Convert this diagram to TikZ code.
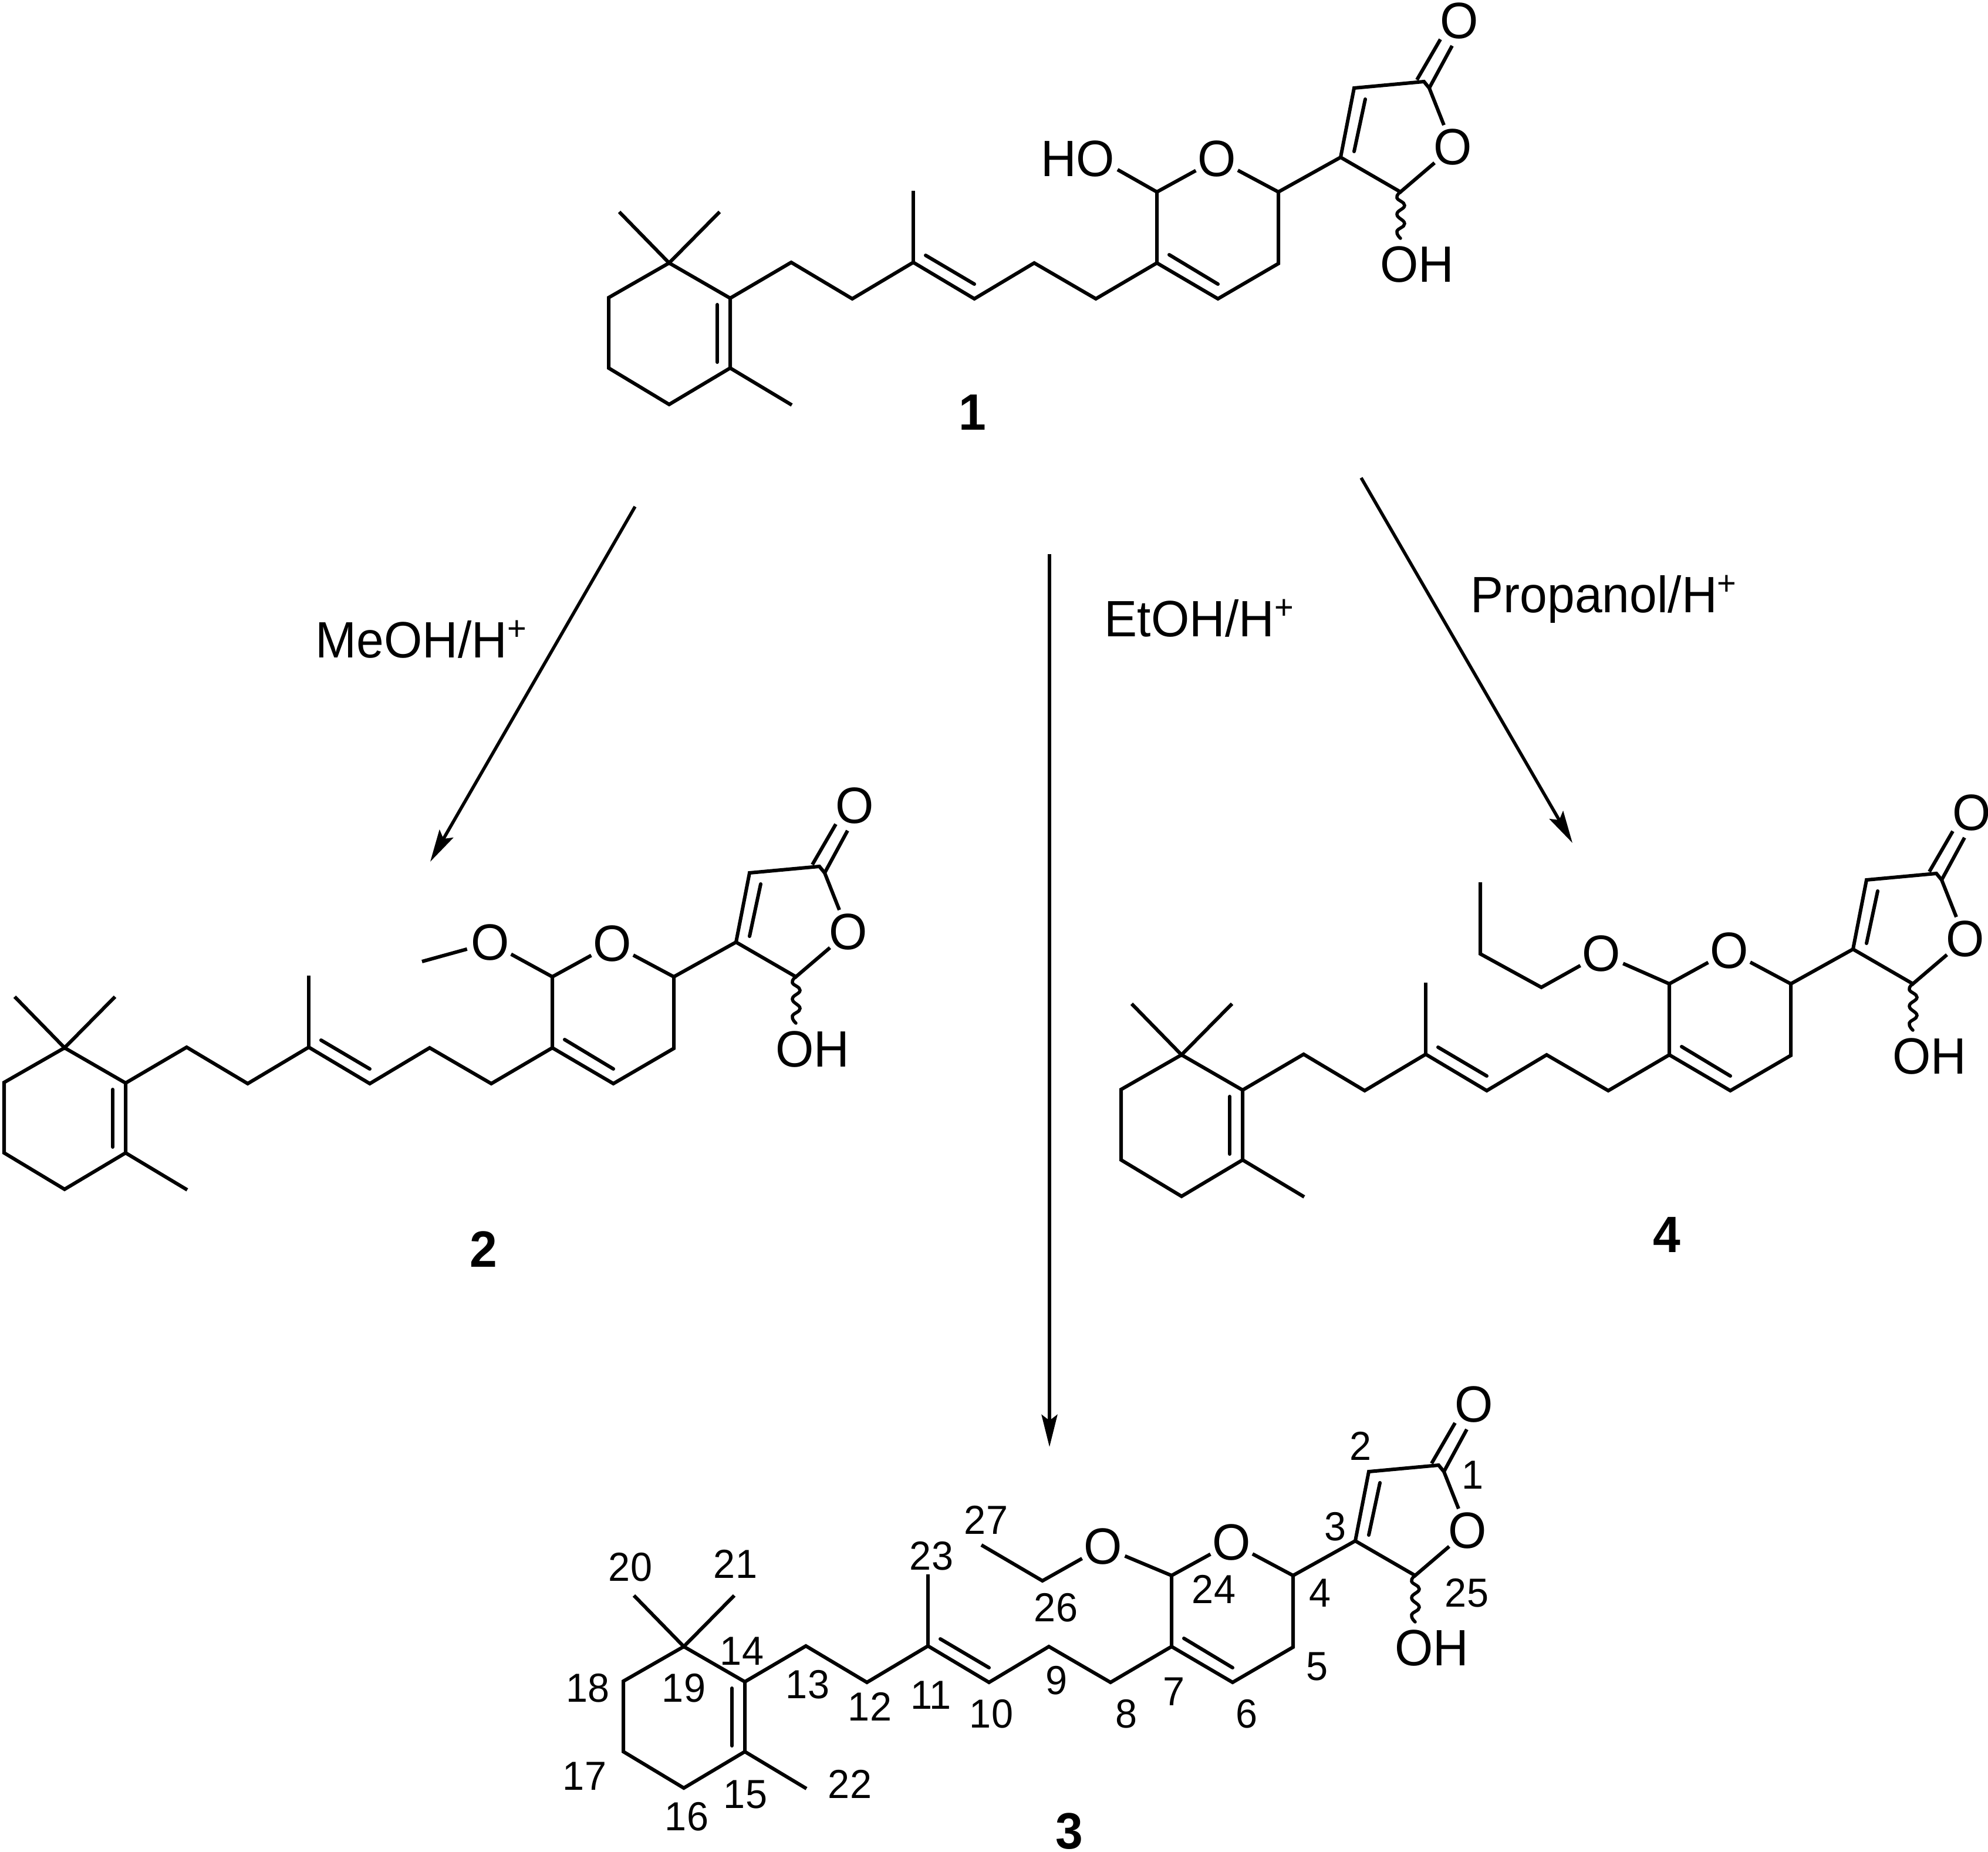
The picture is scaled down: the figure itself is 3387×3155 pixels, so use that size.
\documentclass[tikz,border=0pt]{standalone}
\usepackage{fontspec}
\setmainfont[FakeStretch=0.965]{Liberation Sans}
\usetikzlibrary{arrows.meta}
\tikzset{
  bond/.style={line width=.06cm,line cap=butt,line join=miter},
  innerbond/.style={line width=.06cm,line cap=round},
  wavybond/.style={line width=.055cm,line cap=round},
  rxnarrow/.style={line width=.055cm,-{Stealth[length=.55cm,width=.27cm,inset=.1cm]}},
  atomlab/.style={circle,inner sep=0pt,minimum size=.8cm,font=\fontsize{.87cm}{1cm}\selectfont},
  txtlab/.style={inner sep=0pt,font=\fontsize{.87cm}{1cm}\selectfont},
  numlab/.style={inner sep=0pt,font=\fontsize{.69cm}{.8cm}\selectfont},
  cpdlab/.style={inner sep=0pt,font=\fontsize{.87cm}{1cm}\selectfont\bfseries}
}
\newcommand\atomO{\makebox[0pt]{O}}
\newcommand\plusmark{\raisebox{.29cm}{\fontsize{.58cm}{.6cm}\selectfont +}}
\newcommand\skeleton[3]{%
\begin{scope}[shift={(#1,#2)},name prefix=#3-]
  \coordinate (Q) at (1140,448);
  \coordinate (Ma) at (1055,361);
  \coordinate (Mb) at (1226,361);
  \coordinate (R1) at (1037,507);
  \coordinate (R2) at (1037,627);
  \coordinate (R3) at (1140,689);
  \coordinate (R4) at (1244,627);
  \coordinate (R5) at (1244,508);
  \coordinate (Me) at (1349,690);
  \coordinate (Ria) at (1222,519);
  \coordinate (Rib) at (1222,617);
  \coordinate (C1) at (1348,447);
  \coordinate (C2) at (1452,509);
  \coordinate (C3) at (1556,447);
  \coordinate (Mt) at (1556,325);
  \coordinate (C4) at (1660,509);
  \coordinate (Cia) at (1577,435);
  \coordinate (Cib) at (1660,484);
  \coordinate (C5) at (1762,448);
  \coordinate (C6) at (1867,509);
  \coordinate (P7) at (1971,448);
  \coordinate (P1) at (1971,327);
  \coordinate (P3) at (2178,327);
  \coordinate (P4) at (2178,449);
  \coordinate (P5) at (2075,509);
  \coordinate (Pia) at (1992,434);
  \coordinate (Pib) at (2075,484);
  \coordinate (Fb) at (2284,268);
  \coordinate (Fa) at (2307,150);
  \coordinate (Fia) at (2326,169);
  \coordinate (Fib) at (2307,258);
  \coordinate (CO) at (2426,139);
  \coordinate (COb) at (2435,150);
  \coordinate (F5) at (2386,327);
  \coordinate (Wa) at (2380,337);
  \coordinate (Wb) at (2393,350);
  \coordinate (Wc) at (2380,365);
  \coordinate (Wd) at (2393,381);
  \coordinate (We) at (2380,394);
  \coordinate (W) at (2386,406);
  \coordinate (Da) at (2414,136);
  \coordinate (Db) at (2454,67);
  \coordinate (Dc) at (2474,78);
  \node[atomlab] (Ocarb) at (2486,36) {\atomO};
  \node[atomlab] (Opyr) at (2073,271) {\atomO};
  \node[atomlab] (Ofur) at (2475,251) {\atomO};
  \node[txtlab] (OH) at (2414,451) {OH};
  \draw[bond] (Q) -- (R1) -- (R2) -- (R3) -- (R4) -- (R5) -- cycle;
  \draw[bond] (Ma) -- (Q) -- (Mb);
  \draw[bond] (R4) -- (Me);
  \draw[innerbond] (Ria) -- (Rib);
  \draw[bond] (R5) -- (C1) -- (C2) -- (C3) -- (C4) -- (C5) -- (C6) -- (P7);
  \draw[bond] (C3) -- (Mt);
  \draw[innerbond] (Cia) -- (Cib);
  \draw[bond] (Opyr) -- (P1) -- (P7) -- (P5) -- (P4) -- (P3) -- (Opyr);
  \draw[innerbond] (Pia) -- (Pib);
  \draw[bond] (P3) -- (Fb) -- (F5) -- (Ofur);
  \draw[bond] (Fb) -- (Fa) -- (CO) -- (COb) -- (Ofur);
  \draw[innerbond] (Fia) -- (Fib);
  \draw[bond] (Da) -- (Db);
  \draw[bond] (COb) -- (Dc);
  \draw[wavybond] plot[smooth,tension=.8] coordinates {(F5) (Wa) (Wb) (Wc) (Wd) (We) (W)};
\end{scope}}
\begin{document}
\begin{tikzpicture}[x=0.01cm,y=-0.01cm]
\path[use as bounding box,fill=white] (0,0) rectangle (3387,3155);
% compound 1
\skeleton{0}{0}{m1}
\node[txtlab] (HO) at (1836,271) {HO};
\coordinate (HOe) at (1904,289);
\draw[bond] (m1-P1) -- (HOe);
\node[cpdlab] (lab1) at (1657,703) {1};
% compound 2
\skeleton{-1030}{1337}{m2}
\node[atomlab] (OMe) at (835,1606) {\atomO};
\coordinate (Me2) at (719,1638);
\draw[bond] (m2-P1) -- (OMe);
\draw[bond] (OMe) -- (Me2);
\node[cpdlab] (lab2) at (824,2128) {2};
% compound 3
\skeleton{25}{2357}{m3}
\node[atomlab] (OEt) at (1879,2635) {\atomO};
\coordinate (Et1) at (1776,2693);
\coordinate (Et2) at (1672,2632);
\draw[bond] (m3-P1) -- (OEt);
\draw[bond] (OEt) -- (Et1) -- (Et2);
\node[cpdlab] (lab3) at (1822,3120) {3};
\foreach \t/\x/\y in {27/1680/2589,23/1587/2651,20/1074/2670,21/1253/2664,26/1799/2739,
  14/1264/2813,13/1376/2870,18/1002/2876,19/1165/2876,9/1800/2863,11/1586/2888,12/1482/2907,
  10/1689/2920,17/996/3026,22/1448/3039,15/1270/3057,16/1170/3095,2/2318/2463,1/2509/2513,
  3/2275/2601,24/2068/2707,4/2249/2714,25/2499/2714,5/2244/2839,7/2000/2882,6/2124/2920,8/1919/2920}
  {\node[numlab] (n\t) at (\x,\y) {\t};}
% compound 4
\skeleton{873}{1349}{m4}
\node[atomlab] (OPr) at (2728,1625) {\atomO};
\coordinate (Pr1) at (2626,1682);
\coordinate (Pr2) at (2522,1625);
\coordinate (Pr3) at (2522,1503);
\draw[bond] (m4-P1) -- (OPr);
\draw[bond] (OPr) -- (Pr1) -- (Pr2) -- (Pr3);
\node[cpdlab] (lab4) at (2840,2104) {4};
% reaction arrows
\coordinate (a1s) at (1082,863);
\coordinate (a1t) at (733,1468);
\coordinate (a2s) at (1788,944);
\coordinate (a2t) at (1788,2465);
\coordinate (a3s) at (2319,814);
\coordinate (a3t) at (2679,1436);
\draw[rxnarrow] (a1s) -- (a1t);
\draw[rxnarrow] (a2s) -- (a2t);
\draw[rxnarrow] (a3s) -- (a3t);
\node[txtlab,anchor=base west] (t1) at (537,1120) {MeOH/H\plusmark};
\node[txtlab,anchor=base west] (t2) at (1881,1084) {EtOH/H\plusmark};
\node[txtlab,anchor=base west] (t3) at (2505,1043) {Propanol/H\plusmark};
\end{tikzpicture}
\end{document}
